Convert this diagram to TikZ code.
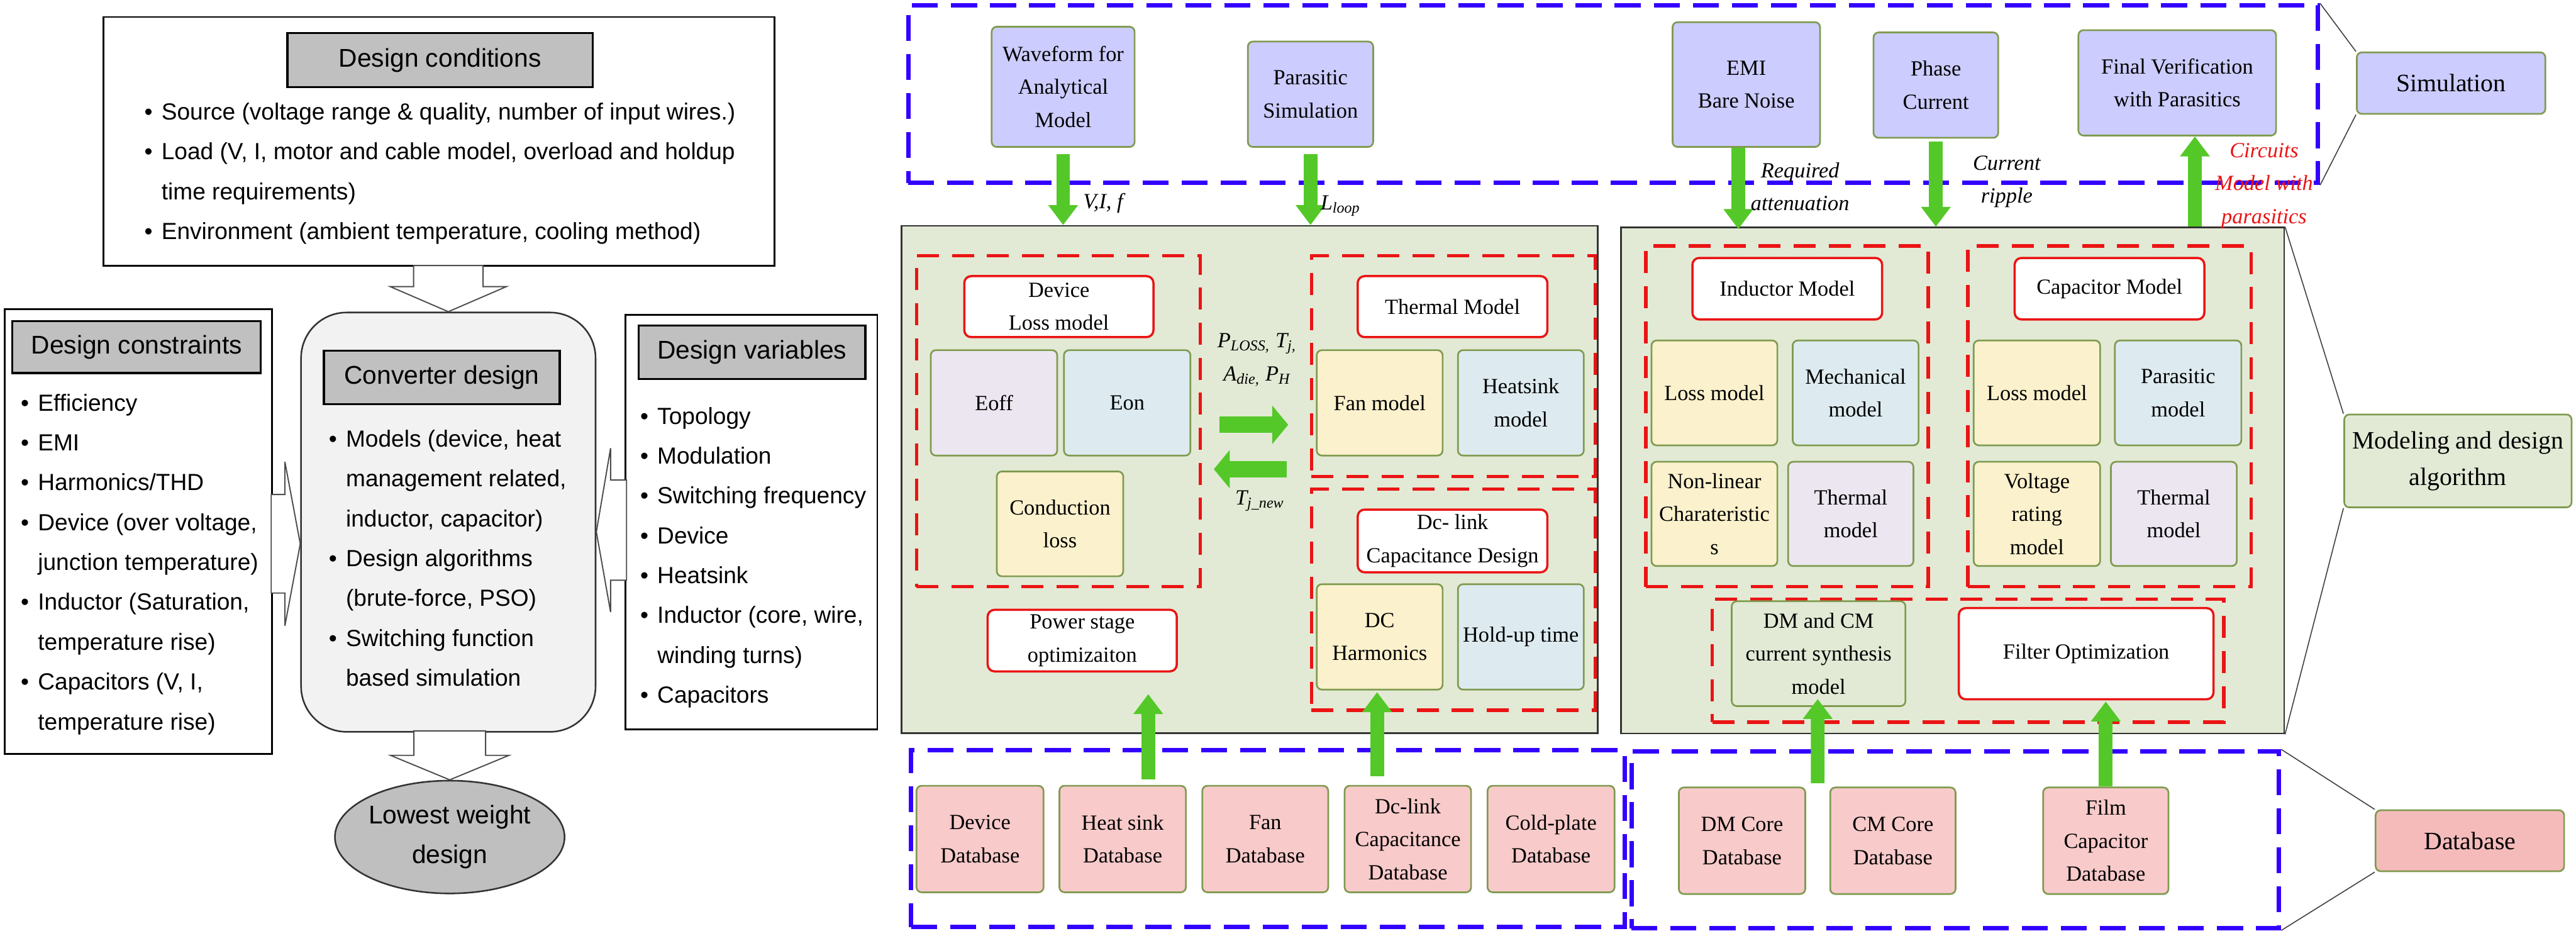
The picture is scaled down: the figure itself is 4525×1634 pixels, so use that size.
\documentclass[tikz,border=0pt]{standalone}
\usepackage{fontspec}
\setmainfont{Liberation Serif}
\newfontfamily\arialfont{Liberation Sans}
\usepackage{xcolor}
\usetikzlibrary{positioning}
\usetikzlibrary{calc}
\usetikzlibrary{arrows.meta}
\usetikzlibrary{shapes.geometric}

\definecolor{simfill}{RGB}{204,204,255}
\definecolor{dbfill}{RGB}{248,202,202}
\definecolor{dbtag}{RGB}{245,187,187}
\definecolor{panelfill}{RGB}{226,234,213}
\definecolor{olivebd}{RGB}{128,155,80}
\definecolor{creamfill}{RGB}{251,241,204}
\definecolor{bluefill}{RGB}{221,235,240}
\definecolor{lavfill}{RGB}{235,230,240}
\definecolor{redc}{RGB}{235,20,20}
\definecolor{bluec}{RGB}{51,0,255}
\definecolor{greenc}{RGB}{84,200,40}
\definecolor{hdrgray}{RGB}{192,192,192}
\definecolor{convgray}{RGB}{242,242,242}
\definecolor{ellgray}{RGB}{191,191,191}

\newcommand{\mdlfont}{\fontsize{10.8}{16.5}\selectfont}
\newcommand{\mdltag}{\fontsize{12.5}{18.2}\selectfont}
\newcommand{\dsgnlist}{\arialfont\fontsize{11.65}{19.9}\selectfont}
\newcommand{\dsgnhead}{\arialfont\fontsize{12.8}{19.6}\selectfont}
\newcommand{\blt}{\makebox[0.30cm][l]{\textbullet}}
\newcommand{\bind}{\hspace*{0.30cm}}

\tikzset{
  wh/.style 2 args={minimum width=#1cm, minimum height=#2cm},
  leftbox/.style={draw=black, line width=0.9pt, inner sep=0},
  hdr/.style={draw=black, fill=hdrgray, line width=1pt, inner sep=0, font=\dsgnhead},
  dlist/.style={align=left, inner sep=0, font=\dsgnlist},
  hollow/.style={draw=black!70, fill=white, line width=0.6pt},
  panel/.style={draw=black!80, fill=panelfill, line width=0.85pt, inner sep=0},
  redgrp/.style={draw=redc, line width=1.7pt, dash pattern=on 11pt off 6.5pt, inner sep=0},
  bluegrp/.style={draw=bluec, line width=2.2pt, dash pattern=on 13pt off 6.5pt, inner sep=0},
  mbox/.style={draw=olivebd, line width=0.85pt, rounded corners=0.09cm, align=center, inner sep=0, font=\mdlfont},
  simnode/.style={mbox, fill=simfill},
  dbnode/.style={mbox, fill=dbfill},
  rednode/.style={draw=redc, fill=white, line width=1.1pt, rounded corners=0.12cm, align=center, inner sep=0, font=\mdlfont},
  tagnode/.style={mbox, font=\mdltag},
  arrlbl/.style={align=center, inner sep=0, font=\mdlfont\itshape},
  leader/.style={draw=black!75, line width=0.5pt},
  garrow/.style={draw=greenc, line width=0.24cm, -{Triangle[width=0.5cm,length=0.35cm]}},
  garrowh/.style={draw=greenc, line width=0.29cm, -{Triangle[width=0.66cm,length=0.28cm]}}
}

\begin{document}
\begin{tikzpicture}[x=0.01cm, y=-0.01cm]
\useasboundingbox (0,0) rectangle (4525,1634);

\node[leftbox, wh={11.78}{4.37}] (cond) at (771,248.5) {};
\node[hdr, wh={5.36}{0.95}] (condh) at (773,105.5) {Design conditions};
\node[dlist, anchor=west] (condl) at (253,305) {\blt Source (voltage range \& quality, number of input wires.)\\\blt Load (V, I, motor and cable model, overload and holdup\\\bind time requirements)\\\blt Environment (ambient temperature, cooling method)};

\node[leftbox, wh={4.70}{7.81}] (cons) at (243,933.5) {};
\node[hdr, wh={4.36}{0.91}] (consh) at (240,609.5) {Design constraints};
\node[dlist, anchor=west] (consl) at (36,991) {\blt Efficiency\\\blt EMI\\\blt Harmonics/THD\\\blt Device (over voltage,\\\bind junction temperature)\\\blt Inductor (Saturation,\\\bind temperature rise)\\\blt Capacitors (V, I,\\\bind temperature rise)};

\node[draw=black!80, fill=convgray, line width=0.8pt, rounded corners=0.8cm, wh={5.17}{7.36}] (conv) at (787.5,917) {};
\node[hdr, wh={4.14}{0.94}] (convh) at (776,663) {Converter design};
\node[dlist, anchor=west] (convl) at (577,980) {\blt Models (device, heat\\\bind management related,\\\bind inductor, capacitor)\\\blt Design algorithms\\\bind (brute-force, PSO)\\\blt Switching function\\\bind based simulation};

\node[leftbox, wh={4.42}{7.28}] (vars) at (1320,917) {};
\node[hdr, wh={3.98}{0.94}] (varsh) at (1321,619) {Design variables};
\node[dlist, anchor=west] (varsl) at (1124,979) {\blt Topology\\\blt Modulation\\\blt Switching frequency\\\blt Device\\\blt Heatsink\\\blt Inductor (core, wire,\\\bind winding turns)\\\blt Capacitors};

\node[ellipse, draw=black!80, fill=ellgray, line width=0.8pt, wh={3.76}{1.98}, inner sep=0, align=center, font=\dsgnhead] (lowest) at (790,1470) {Lowest weight\\design};

\draw[hollow] (conv.north) -- ++(-102,-44) -- ++(41,0) -- ++(0,-37) -- ++(122,0) -- ++(0,37) -- ++(41,0) -- cycle;
\draw[hollow] (lowest.north) -- ++(-104,-43) -- ++(41,0) -- ++(0,-43) -- ++(126,0) -- ++(0,43) -- ++(41,0) -- cycle;
\draw[hollow] ($(conv.west)+(0,38)$) -- ++(-27,-144) -- ++(0,57.5) -- ++(-24,0) -- ++(0,173) -- ++(24,0) -- ++(0,57.5) -- cycle;
\draw[hollow] ($(conv.east)+(0,17)$) -- ++(25,-147) -- ++(0,56) -- ++(28,0) -- ++(0,176) -- ++(-28,0) -- ++(0,56) -- cycle;

\node[bluegrp, wh={24.75}{3.11}] (simgrp) at (2833.5,165.5) {};
\node[panel, wh={12.22}{8.90}] (lpanel) at (2195,842) {};
\node[panel, wh={11.64}{8.88}] (rpanel) at (3430,844) {};
\node[bluegrp, wh={12.53}{3.10}] (dbgrp1) at (2227.5,1473) {};
\node[bluegrp, wh={11.37}{3.10}] (dbgrp2) at (3434.5,1475) {};

\node[simnode, wh={2.51}{2.11}] (wave) at (1867.5,152.5) {Waveform for\\Analytical\\Model};
\node[simnode, wh={2.20}{1.85}] (para) at (2302,165.5) {Parasitic\\Simulation};
\node[simnode, wh={2.59}{2.19}] (emi) at (3067.5,148.5) {EMI\\Bare Noise};
\node[simnode, wh={2.19}{1.85}] (phase) at (3400.5,149.5) {Phase\\Current};
\node[simnode, wh={3.47}{1.85}] (final) at (3824.5,145.5) {Final Verification\\with Parasitics};
\node[tagnode, fill=simfill, wh={3.31}{1.08}] (simtag) at (4305.5,146) {Simulation};

\node[redgrp, wh={4.98}{5.81}] (devgrp) at (1859,739.5) {};
\node[redgrp, wh={4.98}{3.88}] (thgrp) at (2553,643) {};
\node[redgrp, wh={4.98}{3.88}] (dcgrp) at (2553,1053) {};
\node[rednode, wh={3.32}{1.07}] (devloss) at (1860,538.5) {Device\\Loss model};
\node[mbox, fill=lavfill, wh={2.22}{1.85}] (eoff) at (1746,707.5) {Eoff};
\node[mbox, fill=bluefill, wh={2.22}{1.85}] (eon) at (1980,707.5) {Eon};
\node[mbox, fill=creamfill, wh={2.22}{1.84}] (cond) at (1862,920) {Conduction\\loss};
\node[rednode, wh={3.32}{1.08}] (pso) at (1901,1125) {Power stage\\optimizaiton};
\node[rednode, wh={3.33}{1.07}] (thmod) at (2551.5,538.5) {Thermal Model};
\node[mbox, fill=creamfill, wh={2.21}{1.85}] (fan) at (2423.5,707.5) {Fan model};
\node[mbox, fill=bluefill, wh={2.21}{1.85}] (hs) at (2671.5,707.5) {Heatsink\\model};
\node[rednode, wh={3.33}{1.10}] (dclink) at (2551.5,950) {Dc- link\\Capacitance Design};
\node[mbox, fill=creamfill, wh={2.21}{1.85}] (dch) at (2423.5,1118.5) {DC\\Harmonics};
\node[mbox, fill=bluefill, wh={2.21}{1.85}] (holdup) at (2671.5,1118.5) {Hold-up time};

\node[redgrp, wh={4.96}{5.98}] (indgrp) at (3139,731) {};
\node[redgrp, wh={4.97}{5.98}] (capgrp) at (3705.5,731) {};
\node[redgrp, wh={8.98}{2.16}] (filtgrp) at (3457,1160) {};
\node[rednode, wh={3.33}{1.08}] (indmod) at (3139.5,507) {Inductor Model};
\node[rednode, wh={3.33}{1.08}] (capmod) at (3705.5,507) {Capacitor Model};
\node[mbox, fill=creamfill, wh={2.21}{1.84}] (iloss) at (3011.5,690) {Loss model};
\node[mbox, fill=bluefill, wh={2.21}{1.84}] (mech) at (3259.5,690) {Mechanical\\model};
\node[mbox, fill=creamfill, wh={2.21}{1.83}] (nonlin) at (3011.5,902.5) {Non-linear\\Charateristic\\s};
\node[mbox, fill=lavfill, wh={2.20}{1.83}] (ithm) at (3251,902.5) {Thermal\\model};
\node[mbox, fill=creamfill, wh={2.22}{1.84}] (closs) at (3578,690) {Loss model};
\node[mbox, fill=bluefill, wh={2.22}{1.84}] (cpar) at (3826,690) {Parasitic\\model};
\node[mbox, fill=creamfill, wh={2.22}{1.83}] (vrat) at (3578,902.5) {Voltage\\rating\\model};
\node[mbox, fill=lavfill, wh={2.21}{1.83}] (cthm) at (3818.5,902.5) {Thermal\\model};
\node[mbox, fill=panelfill, wh={3.05}{1.84}] (dmcm) at (3194.5,1148) {DM and CM\\current synthesis\\model};
\node[rednode, wh={4.47}{1.60}] (filt) at (3664.5,1148) {Filter Optimization};
\node[tagnode, fill=panelfill, wh={3.99}{1.63}] (modtag) at (4317.5,809.5) {Modeling and design\\algorithm};

\node[dbnode, wh={2.23}{1.87}] (devdb) at (1721.5,1473.5) {Device\\Database};
\node[dbnode, wh={2.22}{1.87}] (hsdb) at (1972,1473.5) {Heat sink\\Database};
\node[dbnode, wh={2.21}{1.87}] (fandb) at (2222.5,1473.5) {Fan\\Database};
\node[dbnode, wh={2.22}{1.87}] (dcdb) at (2473,1473.5) {Dc-link\\Capacitance\\Database};
\node[dbnode, wh={2.23}{1.87}] (cpdb) at (2724.5,1473.5) {Cold-plate\\Database};
\node[dbnode, wh={2.22}{1.87}] (dmdb) at (3060,1476.5) {DM Core\\Database};
\node[dbnode, wh={2.20}{1.87}] (cmdb) at (3325,1476.5) {CM Core\\Database};
\node[dbnode, wh={2.20}{1.87}] (filmdb) at (3699,1476.5) {Film\\Capacitor\\Database};
\node[tagnode, fill=dbtag, wh={3.31}{1.07}] (dbtag) at (4338.5,1476.5) {Database};

\draw[leader] (simgrp.north east) -- (simtag.north west);
\draw[leader] (simgrp.south east) -- (simtag.south west);
\draw[leader] (rpanel.north east) -- (modtag.north west);
\draw[leader] (rpanel.south east) -- (modtag.south west);
\draw[leader] (dbgrp2.north east) -- (dbtag.north west);
\draw[leader] (dbgrp2.south east) -- (dbtag.south west);

\draw[garrow, shorten <=0.11cm] (wave.south) -- (wave.south |- lpanel.north);
\draw[garrow, shorten <=0.11cm] (para.south) -- (para.south |- lpanel.north);
\draw[garrow] ($(emi.south)+(-14,0)$) -- ($(emi.south |- rpanel.north)+(-14,4)$);
\draw[garrow, shorten <=0.05cm] (phase.south) -- (phase.south |- rpanel.north);
\draw[garrow] ($(final.south |- rpanel.north)+(31,0)$) -- ($(final.south)+(31,0)$);
\draw[garrowh, shorten <=0.31cm, shorten >=0.38cm] (devgrp.east |- 0,746) -- (thgrp.west |- 0,746);
\draw[garrowh, shorten <=0.41cm, shorten >=0.21cm] (thgrp.west |- 0,824) -- (devgrp.east |- 0,824);
\draw[garrow] ($(hsdb.north)+(45,-10)$) -- ($(pso.south)+(116,38)$);
\draw[garrow] ($(dcdb.north)+(-54,-15)$) -- ($(dch.south)+(-4.5,3)$);
\draw[garrow] ($(dmdb.north east)!0.5!(cmdb.north west)+(0,-6)$) -- ($(dmcm.south)+(-1.5,-14)$);
\draw[garrow] (filmdb.north) -- ($(filt.south)+(34.5,2)$);

\node[arrlbl, anchor=west] (vif) at (1902,357) {V,I, f};
\node[arrlbl, anchor=west] (lloop) at (2319,362) {L\textsubscript{loop}};
\node[arrlbl] (reqatt) at (3162,328) {Required\\attenuation};
\node[arrlbl] (curr) at (3525,319) {Current\\ripple};
\node[arrlbl, text=redc] (cmwp) at (3977,326) {Circuits\\Model with\\parasitics};
\node[arrlbl] (ploss) at (2208,632) {P\textsubscript{LOSS,} T\textsubscript{j,}\\A\textsubscript{die,} P\textsubscript{H}};
\node[arrlbl] (tjnew) at (2213,880) {T\textsubscript{j\_new}};
\end{tikzpicture}
\end{document}
